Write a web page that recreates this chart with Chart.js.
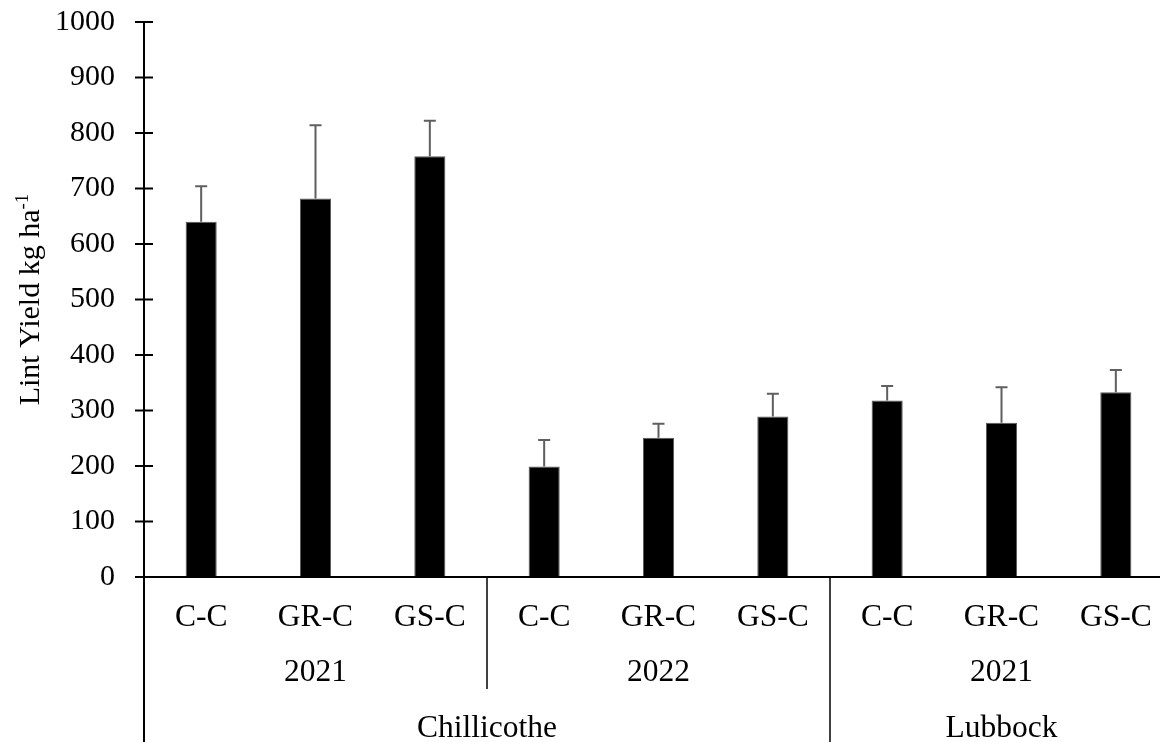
<!DOCTYPE html>
<html>
<head>
<meta charset="utf-8">
<title>Lint Yield</title>
<script src="https://cdn.jsdelivr.net/npm/chart.js@4/dist/chart.umd.min.js"></script>
<style>
  html, body { margin: 0; padding: 0; background: #ffffff; overflow: hidden; }
  #wrap { width: 1180px; height: 742px; }
</style>
</head>
<body>
<div id="wrap"><canvas id="c" width="1180" height="742"></canvas></div>
<script>
// Treatments, grouped by year and site
const treatments = ['C-C', 'GR-C', 'GS-C', 'C-C', 'GR-C', 'GS-C', 'C-C', 'GR-C', 'GS-C'];
const years      = ['2021', '2021', '2021', '2022', '2022', '2022', '2021', '2021', '2021'];
const sites      = ['Chillicothe', 'Chillicothe', 'Chillicothe', 'Chillicothe', 'Chillicothe', 'Chillicothe', 'Lubbock', 'Lubbock', 'Lubbock'];

// Mean lint yield (kg/ha) and standard error
const lintYield = [640, 682, 758, 199, 251, 289, 318, 278, 333];
const yieldErr  = [64, 132, 64, 48, 25, 41, 26, 64, 40];

// Value axis
const yMin = 0;
const yMax = 1000;
const yStep = 100;

const FONT = "'Liberation Serif', 'Times New Roman', serif";
const TXT = '#000000';
const CAT_SIZE = 31.5;
const NUM_SIZE = 30;

// Consecutive runs of equal keys -> [{label, from, to}]
function runs(keys) {
  const out = [];
  keys.forEach((k, i) => {
    const last = out[out.length - 1];
    if (last && last.key === k) last.to = i;
    else out.push({ key: k, label: k, from: i, to: i });
  });
  return out;
}

const errorBars = {
  id: 'errorBars',
  afterDatasetsDraw(chart) {
    const { ctx } = chart;
    const y = chart.scales.y;
    const meta = chart.getDatasetMeta(0);
    ctx.save();
    ctx.strokeStyle = '#5f5f5f';
    ctx.lineWidth = 2;
    meta.data.forEach((bar, i) => {
      const top = y.getPixelForValue(lintYield[i]);
      const hi = y.getPixelForValue(lintYield[i] + yieldErr[i]);
      ctx.beginPath();
      ctx.moveTo(bar.x, top);
      ctx.lineTo(bar.x, hi);
      ctx.moveTo(bar.x - 6, hi);
      ctx.lineTo(bar.x + 6, hi);
      ctx.stroke();
    });
    ctx.restore();
  }
};

const axesAndGroups = {
  id: 'axesAndGroups',
  afterDraw(chart) {
    const { ctx, chartArea } = chart;
    const x = chart.scales.x;
    const y = chart.scales.y;
    const H = chart.height;
    const half = (x.getPixelForValue(1) - x.getPixelForValue(0)) / 2;
    ctx.save();
    ctx.strokeStyle = '#000';

    // y axis line, running down through the category table
    ctx.lineWidth = 2;
    ctx.beginPath();
    ctx.moveTo(chartArea.left, y.getPixelForValue(yMax) - 1);
    ctx.lineTo(chartArea.left, H);
    ctx.stroke();

    // y tick marks crossing the axis
    for (let v = yMin; v <= yMax; v += yStep) {
      const py = y.getPixelForValue(v);
      ctx.beginPath();
      ctx.moveTo(chartArea.left - 9, py);
      ctx.lineTo(chartArea.left + 9, py);
      ctx.stroke();
    }

    // x axis line
    ctx.beginPath();
    ctx.moveTo(chartArea.left, chartArea.bottom);
    ctx.lineTo(chartArea.right, chartArea.bottom);
    ctx.stroke();

    // group separators and labels
    const yearRuns = runs(years.map((yr, i) => sites[i] + '|' + yr)).map(r => ({ ...r, label: years[r.from] }));
    const siteRuns = runs(sites);
    const yearRowY = 673;
    const siteRowY = 729;
    const yearRowBottom = 689;

    ctx.lineWidth = 1.5;
    yearRuns.forEach(r => {
      const right = x.getPixelForValue(r.to) + half;
      const siteEnds = siteRuns.some(s => s.to === r.to);
      ctx.beginPath();
      ctx.moveTo(right, chartArea.bottom);
      ctx.lineTo(right, siteEnds ? H : yearRowBottom);
      ctx.stroke();
    });

    ctx.fillStyle = TXT;
    ctx.font = CAT_SIZE + 'px ' + FONT;
    ctx.textAlign = 'center';
    ctx.textBaseline = 'middle';
    yearRuns.forEach(r => {
      const cx = (x.getPixelForValue(r.from) + x.getPixelForValue(r.to)) / 2;
      ctx.fillText(r.label, cx, yearRowY);
    });
    siteRuns.forEach(r => {
      const cx = (x.getPixelForValue(r.from) + x.getPixelForValue(r.to)) / 2;
      ctx.fillText(r.label, cx, siteRowY);
    });

    // y axis title with superscript unit
    const main = 'Lint Yield kg ha';
    const sup = '-1';
    ctx.font = NUM_SIZE + 'px ' + FONT;
    const wMain = ctx.measureText(main).width;
    ctx.font = '19px ' + FONT;
    const wSup = ctx.measureText(sup).width;
    const total = wMain + wSup;
    const cy = (chartArea.top + chartArea.bottom) / 2;
    ctx.translate(39, cy);
    ctx.rotate(-Math.PI / 2);
    ctx.textAlign = 'left';
    ctx.textBaseline = 'alphabetic';
    ctx.font = NUM_SIZE + 'px ' + FONT;
    ctx.fillText(main, -total / 2, 0);
    ctx.font = '19px ' + FONT;
    ctx.fillText(sup, -total / 2 + wMain, -11);
    ctx.restore();
  }
};

new Chart(document.getElementById('c'), {
  type: 'bar',
  data: {
    labels: treatments,
    datasets: [{
      data: lintYield,
      backgroundColor: '#000000',
      borderColor: '#595959',
      borderWidth: 1,
      barPercentage: 0.272,
      categoryPercentage: 1.0
    }]
  },
  options: {
    responsive: false,
    animation: false,
    devicePixelRatio: 1,
    layout: { padding: { top: 22, right: 7, left: 0, bottom: 0 } },
    plugins: { legend: { display: false }, tooltip: { enabled: false }, title: { display: false } },
    scales: {
      x: {
        grid: { display: false, drawTicks: false },
        border: { display: false },
        ticks: { color: TXT, font: { family: FONT, size: CAT_SIZE }, padding: 22, maxRotation: 0, autoSkip: false },
        afterFit(scale) { scale.height = 165; }
      },
      y: {
        min: yMin,
        max: yMax,
        grid: { display: false, drawTicks: false },
        border: { display: false },
        ticks: {
          stepSize: yStep,
          color: TXT,
          font: { family: FONT, size: NUM_SIZE },
          padding: 29,
          callback: (v) => String(v)
        },
        afterFit(scale) {
          scale.width = 144;
          scale.paddingTop = 0;
          scale.paddingBottom = 0;
        }
      }
    }
  },
  plugins: [errorBars, axesAndGroups]
});
</script>
</body>
</html>
